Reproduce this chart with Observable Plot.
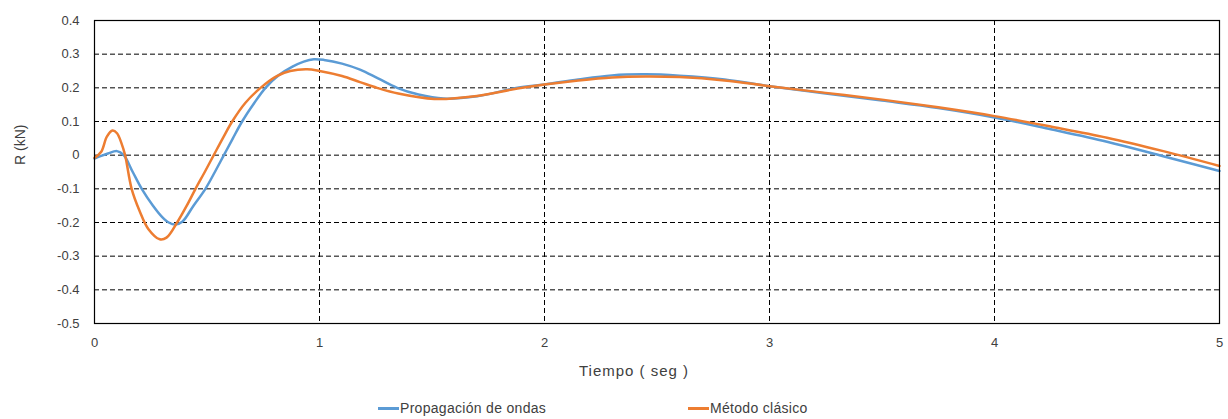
<!DOCTYPE html>
<html>
<head>
<meta charset="utf-8">
<script src="https://cdn.jsdelivr.net/npm/d3@7"></script>
<script src="https://cdn.jsdelivr.net/npm/@observablehq/plot@0.6"></script>
<style>
  body { margin: 0; background: #fff; font-family: "Liberation Sans", Arial, sans-serif; }
  #legend { position: absolute; top: 400px; left: 0; width: 1228px; height: 18px; font-size: 14px; color: #404040; }
  .item { position: absolute; top: 0; display: flex; align-items: center; letter-spacing: 0.3px; }
  .sw { width: 21px; height: 3px; margin-right: 1px; }
  .xtitle text { letter-spacing: 1px; }
</style>
</head>
<body>
<div id="chart"></div>
<div id="legend"></div>
<script>
const seriesNames = ["Propagación de ondas", "Método clásico"];
const seriesColors = ["#5b9bd5", "#ed7d31"];
const xTitle = "Tiempo ( seg )";
const yTitle = "R (kN)";

const tBlue = [0, 0.03, 0.06, 0.1, 0.13, 0.17, 0.21, 0.26, 0.3, 0.33, 0.36, 0.39, 0.44, 0.493, 0.535, 0.575, 0.615, 0.656, 0.71, 0.76, 0.82, 0.88, 0.93, 0.975, 1.02, 1.1, 1.18, 1.26, 1.345, 1.44, 1.55, 1.7, 1.88, 2.0, 2.15, 2.3, 2.45, 2.6, 2.8, 3.0, 3.25, 3.5, 3.75, 4.0, 4.25, 4.5, 4.75, 5.0];
const rBlue = [-0.01, -0.002, 0.005, 0.012, 0.0, -0.05, -0.1, -0.15, -0.183, -0.2, -0.206, -0.198, -0.15, -0.1, -0.05, 0.0, 0.05, 0.1, 0.155, 0.2, 0.238, 0.263, 0.278, 0.285, 0.283, 0.272, 0.254, 0.228, 0.2, 0.18, 0.168, 0.175, 0.2, 0.21, 0.225, 0.237, 0.24, 0.236, 0.225, 0.205, 0.183, 0.162, 0.14, 0.112, 0.077, 0.04, -0.003, -0.047];

const tOrange = [0, 0.03, 0.055, 0.08, 0.1, 0.12, 0.136, 0.165, 0.2, 0.24, 0.29, 0.32, 0.367, 0.41, 0.449, 0.49, 0.53, 0.57, 0.612, 0.67, 0.738, 0.81, 0.87, 0.945, 1.0, 1.1, 1.18, 1.256, 1.35, 1.51, 1.7, 1.88, 2.0, 2.15, 2.3, 2.45, 2.6, 2.8, 3.0, 3.25, 3.5, 3.75, 4.0, 4.25, 4.5, 4.75, 5.0];
const rOrange = [-0.008, 0.01, 0.055, 0.073, 0.065, 0.035, 0.0, -0.1, -0.165, -0.22, -0.25, -0.245, -0.2, -0.15, -0.1, -0.05, 0.0, 0.05, 0.1, 0.155, 0.2, 0.235, 0.25, 0.255, 0.25, 0.235, 0.217, 0.2, 0.183, 0.167, 0.176, 0.198, 0.21, 0.222, 0.231, 0.234, 0.232, 0.222, 0.205, 0.185, 0.165, 0.142, 0.116, 0.085, 0.052, 0.012, -0.032];

const xTicks = [0, 1, 2, 3, 4, 5];
const yTicks = [-0.5, -0.4, -0.3, -0.2, -0.1, 0, 0.1, 0.2, 0.3, 0.4];

const blue = tBlue.map((t, i) => ({t, r: rBlue[i]}));
const orange = tOrange.map((t, i) => ({t, r: rOrange[i]}));
const fmt = d => d === 0 ? "0" : d.toFixed(1);

const plot = Plot.plot({
  width: 1228,
  height: 385,
  marginLeft: 94,
  marginRight: 9,
  marginTop: 20,
  marginBottom: 62,
  style: { fontFamily: "Liberation Sans, Arial, sans-serif", fontSize: "13px", color: "#404040", background: "#fff" },
  x: { domain: [0, 5], ticks: xTicks, tickSize: 0, tickPadding: 14, tickFormat: d => String(d), label: null },
  y: { domain: [-0.5, 0.4], ticks: yTicks, tickSize: 0, tickPadding: 15, tickFormat: fmt, label: null },
  marks: [
    Plot.ruleY(yTicks, { stroke: "#000", strokeDasharray: "5,3", strokeWidth: 1 }),
    Plot.ruleX(xTicks, { stroke: "#000", strokeDasharray: "5,3", strokeWidth: 1 }),
    Plot.line(blue, { x: "t", y: "r", stroke: seriesColors[0], strokeWidth: 2.5, curve: "catmull-rom" }),
    Plot.line(orange, { x: "t", y: "r", stroke: seriesColors[1], strokeWidth: 2.5, curve: "catmull-rom" }),
    Plot.frame({ stroke: "#000", strokeWidth: 1.2 }),
    Plot.text([xTitle], { frameAnchor: "bottom", dx: -23, dy: 52, fontSize: 15, fill: "#404040", className: "xtitle" }),
    Plot.text([yTitle], { frameAnchor: "left", dx: -74, dy: -7, rotate: -90, fontSize: 14, fill: "#404040" })
  ]
});
document.getElementById("chart").appendChild(plot);

const legend = document.getElementById("legend");
const lefts = [378, 688];
seriesNames.forEach((name, i) => {
  const it = document.createElement("div");
  it.className = "item";
  it.style.left = lefts[i] + "px";
  it.innerHTML = `<span class="sw" style="background:${seriesColors[i]}"></span><span>${name}</span>`;
  legend.appendChild(it);
});
</script>
</body>
</html>
